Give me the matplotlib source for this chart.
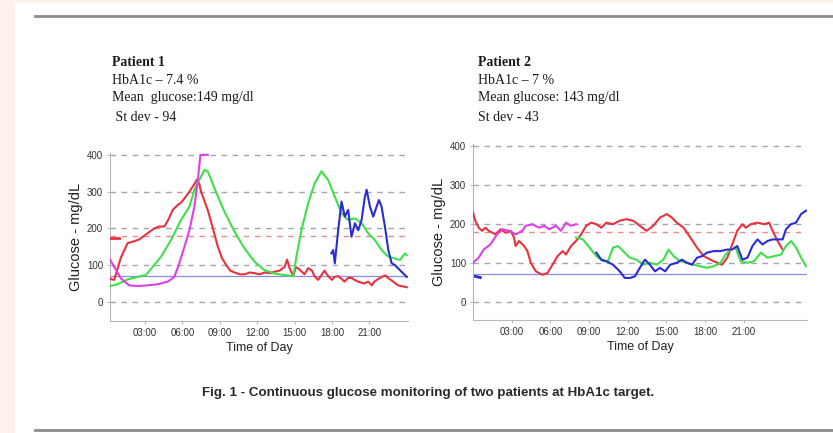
import numpy as np
import matplotlib
matplotlib.use("Agg")
import matplotlib.pyplot as plt
from matplotlib.patches import Rectangle
from matplotlib.lines import Line2D

# ---- patient 1 traces (hours, mg/dL) ----
p1_red_t = [0, 0.27, 0.54, 1.07, 1.61, 2.14, 2.55, 2.95, 3.35, 3.75, 4.16, 4.56, 4.9, 5.23, 5.58,
            5.9, 6.25, 6.57, 6.92, 7.18, 7.37, 7.5, 7.77, 8.04, 8.45, 8.85, 9.17, 9.52, 9.84, 10.19,
            10.6, 11.0, 11.4, 11.8, 12.2, 12.6, 13.0, 13.4, 13.8, 14.2, 14.4, 14.6, 14.9, 15.1, 15.4,
            15.8, 16.1, 16.4, 16.6, 16.9, 17.2, 17.4, 17.7, 18.0, 18.2, 18.5, 18.8, 19.0, 19.3, 19.6,
            19.8, 20.1, 20.4, 20.6, 20.9, 21.2, 21.4, 21.7, 22.0, 22.3, 22.5, 22.8, 23.1, 23.3, 23.7, 24.0]
p1_red_v = [68, 62, 60, 120, 160, 165, 170, 180, 190, 200, 205, 205, 225, 250, 262,
            270, 285, 300, 318, 333, 320, 300, 275, 250, 200, 150, 120, 100, 85, 80,
            75, 75, 80, 78, 75, 80, 78, 82, 85, 95, 115, 92, 70, 95, 88,
            75, 92, 85, 70, 60, 75, 85, 70, 60, 68, 70, 62, 55, 65, 65,
            60, 55, 52, 50, 55, 45, 55, 62, 68, 72, 65, 58, 50, 45, 42, 40]

p1_mag_t = [0, 0.54, 1.07, 1.74, 2.41, 3.22, 4.02, 4.83, 5.36, 5.76, 6.17, 6.57, 6.97, 7.24, 7.45, 8.04]
p1_mag_v = [127, 95, 64, 45, 43, 45, 48, 55, 68, 105, 150, 195, 260, 330, 400, 400]

p1_grn_t = [0, 0.8, 1.61, 2.41, 3.08, 3.62, 4.29, 5.09, 5.9, 6.57, 6.97, 7.37, 7.77, 8.04, 8.58,
            9.38, 10.19, 10.99, 11.8, 12.6, 13.4, 14.2, 14.9, 15.15, 15.55, 16.09, 16.62, 17.16,
            17.69, 18.23, 18.77, 19.3, 19.84, 20.38, 20.91, 21.45, 21.98, 22.52, 23.06, 23.46, 23.86, 24.0]
p1_grn_v = [41, 48, 61, 68, 73, 95, 123, 168, 223, 259, 305, 332, 359, 355, 309,
            245, 191, 145, 109, 86, 77, 73, 70, 123, 195, 268, 323, 355,
            332, 286, 241, 223, 227, 214, 186, 168, 141, 123, 118, 114, 132, 127]

p1_blu_t = [17.96, 18.1, 18.23, 18.5, 18.77, 19.03, 19.3, 19.57, 19.84, 20.11, 20.38, 20.64, 20.78,
            21.05, 21.31, 21.58, 21.77, 21.98, 22.25, 22.52, 22.79, 23.06, 23.32, 23.73, 24.0]
p1_blu_v = [132, 141, 105, 195, 273, 232, 250, 177, 214, 195, 223, 286, 305,
            259, 232, 259, 277, 259, 205, 141, 105, 100, 91, 77, 68]

p1_prev_t = [0.27, 0.94]
p1_prev_v = [174, 174]

# ---- patient 2 traces ----
p2_red_t = [0, 0.18, 0.44, 0.7, 0.96, 1.22, 1.74, 2.14, 2.53, 2.92, 3.18, 3.31, 3.57, 3.96, 4.22,
            4.48, 4.87, 5.39, 5.78, 6.17, 6.56, 6.95, 7.21, 7.6, 7.99, 8.39, 8.78, 9.17, 9.56, 9.95,
            10.34, 10.86, 11.38, 11.9, 12.42, 12.94, 13.46, 13.98, 14.5, 15.03, 15.42, 15.81, 16.33,
            16.85, 17.37, 17.89, 18.41, 18.93, 19.32, 19.71, 20.1, 20.49, 20.89, 21.15, 21.54, 22.06,
            22.58, 22.97, 23.23, 23.62, 24.01]
p2_red_v = [229, 208, 190, 182, 190, 182, 173, 186, 177, 182, 165, 143, 156, 143, 130,
            100, 78, 69, 74, 95, 117, 130, 121, 143, 156, 173, 195, 203, 199, 190,
            203, 199, 208, 212, 208, 195, 182, 195, 216, 225, 216, 203, 190,
            165, 139, 117, 108, 100, 95, 113, 147, 182, 199, 190, 199, 203,
            199, 203, 182, 156, 134]

p2_mag_t = [0, 0.44, 0.83, 1.35, 1.87, 2.27, 2.79, 3.31, 3.83, 4.09, 4.61, 5.13, 5.52, 5.91,
            6.43, 6.82, 7.21, 7.6, 7.99]
p2_mag_v = [100, 113, 134, 147, 173, 186, 182, 173, 182, 195, 199, 190, 195, 186,
            195, 182, 203, 195, 199]

p2_grn_t = [7.99, 8.52, 9.04, 9.56, 10.08, 10.47, 10.86, 11.25, 11.64, 12.16, 12.68, 13.2, 13.72,
            14.24, 14.77, 15.16, 15.55, 16.07, 16.59, 17.11, 17.63, 18.15, 18.67, 19.19, 19.58,
            19.97, 20.36, 20.75, 21.28, 21.8, 22.32, 22.84, 23.36, 23.88, 24.27, 24.66, 25.05, 25.44, 25.83]
p2_grn_v = [165, 160, 139, 117, 104, 104, 139, 143, 130, 113, 108, 95, 100,
            95, 108, 134, 117, 104, 100, 95, 91, 87, 91, 100, 121,
            134, 139, 104, 100, 104, 126, 113, 117, 121, 143, 156, 139, 113, 91]

p2_blu_t = [9.56, 9.95, 10.34, 10.86, 11.38, 11.77, 12.16, 12.55, 12.94, 13.33, 13.72, 14.11, 14.5,
            14.9, 15.29, 15.81, 16.2, 16.59, 16.98, 17.37, 17.76, 18.15, 18.67, 19.19, 19.71, 20.1,
            20.49, 20.89, 21.28, 21.67, 22.06, 22.45, 22.84, 23.23, 23.62, 24.01, 24.27, 24.66,
            25.05, 25.44, 25.83, 25.96]
p2_blu_v = [126, 108, 104, 95, 78, 61, 61, 65, 87, 108, 95, 78, 87,
            78, 95, 100, 108, 100, 95, 113, 117, 126, 130, 130, 134, 134,
            143, 108, 113, 143, 160, 147, 156, 160, 160, 160, 186, 199,
            203, 225, 234, 234]

p2_prev_t = [0.18, 0.57]
p2_prev_v = [65, 62]

hour_ticks = [3, 6, 9, 12, 15, 18, 21]
hour_labels = ["03:00", "06:00", "09:00", "12:00", "15:00", "18:00", "21:00"]
gly_ticks = [0, 100, 200, 300, 400]
target_hi = 180
target_lo = 70

p1_info = ["Patient 1", "HbA1c \u2013 7.4 %", "Mean  glucose:149 mg/dl", " St dev - 94"]
p2_info = ["Patient 2", "HbA1c \u2013 7 %", "Mean glucose: 143 mg/dl", "St dev - 43"]
caption = "Fig. 1 - Continuous glucose monitoring of two patients at HbA1c target."

RED = "#e8323c"
MAG = "#e03ee6"
GRN = "#3ee04a"
BLU = "#2b2bd6"
AXFONT = "Liberation Sans"

W, H = 833, 433
fig = plt.figure(figsize=(W / 100, H / 100), dpi=100)
fig.patch.set_facecolor("#fdf3ec")
fig.add_artist(Rectangle((15 / W, 0), 1, 1 - 3 / H, transform=fig.transFigure,
                         facecolor="white", edgecolor="none", zorder=0))
for yy in (16, 430):
    fig.add_artist(Line2D([35 / W, 1], [1 - yy / H, 1 - yy / H], transform=fig.transFigure,
                          color="#8c8c8c", lw=2))


def cgm_axes(rect, xlim, ymin, traces, prev):
    ax = fig.add_axes(rect)
    for g in gly_ticks:
        ax.axhline(g, color="#a4a4b4", lw=1, dashes=(4, 4), zorder=1)
    ax.axhline(target_hi, color="#f08a8a", lw=1, dashes=(4, 4), zorder=1)
    ax.axhline(target_lo, color="#8a8af0", lw=0.9, zorder=1)
    for t, v, c in traces:
        ax.plot(t, v, color=c, lw=1.5, zorder=3)
    ax.plot(prev[0], prev[1], color=prev[2], lw=2, zorder=3)
    ax.set_xlim(*xlim)
    ax.set_ylim(ymin, 405)
    ax.set_xticks(hour_ticks)
    ax.set_xticklabels(hour_labels)
    ax.set_yticks(gly_ticks)
    for s in ("top", "right"):
        ax.spines[s].set_visible(False)
    for s in ("left", "bottom"):
        ax.spines[s].set_color("#b8b8b8")
        ax.spines[s].set_linewidth(0.8)
    ax.tick_params(labelsize=7, length=2, color="#b8b8b8", labelcolor="#333333", pad=3)
    for lab in ax.get_xticklabels() + ax.get_yticklabels():
        lab.set_family(AXFONT)
    ax.set_xlabel("Time of Day", fontsize=9, family=AXFONT, color="#222222", labelpad=3)
    ax.set_ylabel("Glucose - mg/dL", fontsize=10.5, family=AXFONT, color="#222222", labelpad=3)
    return ax


cgm_axes([110 / W, 1 - 321 / H, 298 / W, 168 / H], (0.2, 24.1), -52,
         [(p1_red_t, p1_red_v, RED), (p1_grn_t, p1_grn_v, GRN),
          (p1_mag_t, p1_mag_v, MAG), (p1_blu_t, p1_blu_v, BLU)],
         (p1_prev_t, p1_prev_v, RED))
cgm_axes([473 / W, 1 - 320 / H, 334 / W, 176 / H], (0, 25.9), -47,
         [(p2_red_t, p2_red_v, RED), (p2_mag_t, p2_mag_v, MAG),
          (p2_grn_t, p2_grn_v, GRN), (p2_blu_t, p2_blu_v, BLU)],
         (p2_prev_t, p2_prev_v, BLU))

# patient summary text
for x0, lines in ((112, p1_info), (478, p2_info)):
    for i, (txt, yy) in enumerate(zip(lines, (63, 80, 98, 117))):
        fig.text(x0 / W, 1 - yy / H, txt, family="Liberation Serif", fontsize=10,
                 fontweight="bold" if i == 0 else "normal", color="#1a1a1a",
                 ha="left", va="center")

fig.text(428 / W, 1 - 393 / H, caption, family="Liberation Sans", fontsize=9.6,
         fontweight="bold", color="#2a2a2a", ha="center", va="center")

fig.savefig("out.png", dpi=100)
